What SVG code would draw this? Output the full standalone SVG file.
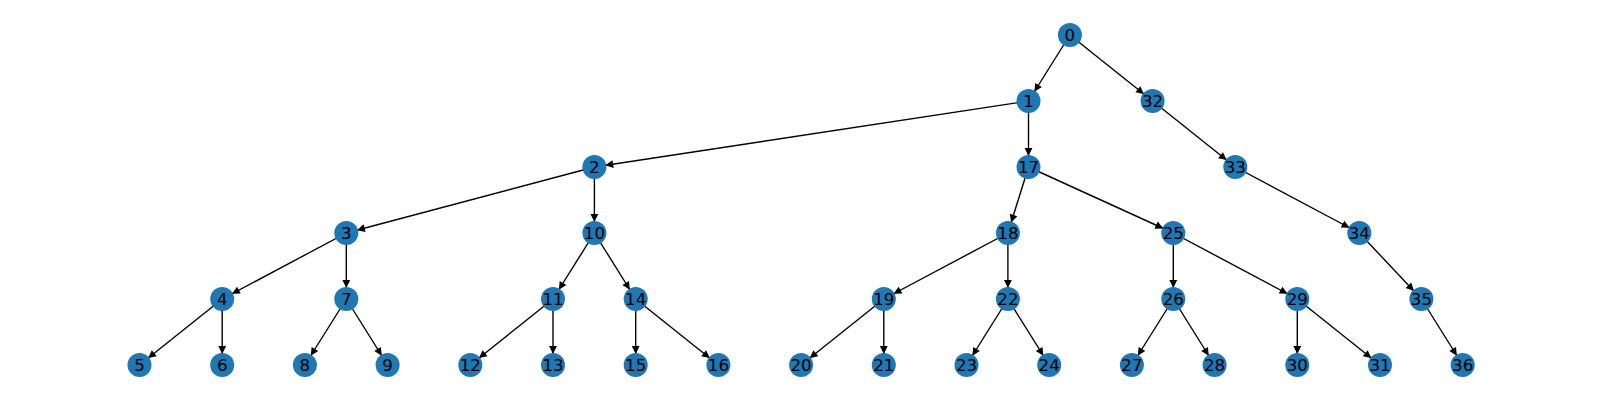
<svg xmlns="http://www.w3.org/2000/svg" width="1600" height="400" viewBox="0 0 1600 400">
<style>
.n circle{fill:#1f77b4}
.n text{font-family:"DejaVu Sans",sans-serif;font-size:16.67px;fill:#000;text-anchor:middle}
#edges line{stroke:#000;stroke-width:1.39;marker-end:url(#ah)}
</style>
<defs>
<marker id="ah" markerUnits="userSpaceOnUse" orient="auto" refX="0" refY="0" markerWidth="40" markerHeight="20" overflow="visible">
<path d="M-12.6,0 L-18.2,-2.8 L-18.2,2.8 Z" fill="#000" stroke="#000" stroke-width="1.39" stroke-linejoin="miter"/>
</marker>
</defs>
<rect width="1600" height="400" fill="#fff"/>
<g id="edges">
<line x1="1069.9" y1="35" x2="1028.5" y2="101"/>
<line x1="1069.9" y1="35" x2="1152.6" y2="101"/>
<line x1="1028.5" y1="101" x2="594.4" y2="167"/>
<line x1="1028.5" y1="101" x2="1028.5" y2="167"/>
<line x1="1152.6" y1="101" x2="1235.3" y2="167"/>
<line x1="594.4" y1="167" x2="346.3" y2="233"/>
<line x1="594.4" y1="167" x2="594.4" y2="233"/>
<line x1="1028.5" y1="167" x2="1007.9" y2="233"/>
<line x1="1028.5" y1="167" x2="1173.3" y2="233"/>
<line x1="1235.3" y1="167" x2="1359.3" y2="233"/>
<line x1="346.3" y1="233" x2="222.2" y2="299"/>
<line x1="346.3" y1="233" x2="346.3" y2="299"/>
<line x1="594.4" y1="233" x2="553.0" y2="299"/>
<line x1="594.4" y1="233" x2="635.7" y2="299"/>
<line x1="1007.9" y1="233" x2="883.8" y2="299"/>
<line x1="1007.9" y1="233" x2="1007.9" y2="299"/>
<line x1="1173.3" y1="233" x2="1173.3" y2="299"/>
<line x1="1173.3" y1="233" x2="1297.3" y2="299"/>
<line x1="1359.3" y1="233" x2="1421.4" y2="299"/>
<line x1="222.2" y1="299" x2="139.5" y2="365"/>
<line x1="222.2" y1="299" x2="222.2" y2="365"/>
<line x1="346.3" y1="299" x2="304.9" y2="365"/>
<line x1="346.3" y1="299" x2="387.6" y2="365"/>
<line x1="553.0" y1="299" x2="470.3" y2="365"/>
<line x1="553.0" y1="299" x2="553.0" y2="365"/>
<line x1="635.7" y1="299" x2="635.7" y2="365"/>
<line x1="635.7" y1="299" x2="718.4" y2="365"/>
<line x1="883.8" y1="299" x2="801.1" y2="365"/>
<line x1="883.8" y1="299" x2="883.8" y2="365"/>
<line x1="1007.9" y1="299" x2="966.5" y2="365"/>
<line x1="1007.9" y1="299" x2="1049.2" y2="365"/>
<line x1="1173.3" y1="299" x2="1131.9" y2="365"/>
<line x1="1173.3" y1="299" x2="1214.6" y2="365"/>
<line x1="1297.3" y1="299" x2="1297.3" y2="365"/>
<line x1="1297.3" y1="299" x2="1380.0" y2="365"/>
<line x1="1421.4" y1="299" x2="1462.7" y2="365"/>
</g>
<g id="node0" class="n"><circle cx="1069.9" cy="35" r="12"/><text x="1069.9" y="41">0</text></g>
<g id="node1" class="n"><circle cx="1028.5" cy="101" r="12"/><text x="1028.5" y="107">1</text></g>
<g id="node32" class="n"><circle cx="1152.6" cy="101" r="12"/><text x="1152.6" y="107">32</text></g>
<g id="node2" class="n"><circle cx="594.4" cy="167" r="12"/><text x="594.4" y="173">2</text></g>
<g id="node17" class="n"><circle cx="1028.5" cy="167" r="12"/><text x="1028.5" y="173">17</text></g>
<g id="node33" class="n"><circle cx="1235.3" cy="167" r="12"/><text x="1235.3" y="173">33</text></g>
<g id="node3" class="n"><circle cx="346.3" cy="233" r="12"/><text x="346.3" y="239">3</text></g>
<g id="node10" class="n"><circle cx="594.4" cy="233" r="12"/><text x="594.4" y="239">10</text></g>
<g id="node18" class="n"><circle cx="1007.9" cy="233" r="12"/><text x="1007.9" y="239">18</text></g>
<g id="node25" class="n"><circle cx="1173.3" cy="233" r="12"/><text x="1173.3" y="239">25</text></g>
<g id="node34" class="n"><circle cx="1359.3" cy="233" r="12"/><text x="1359.3" y="239">34</text></g>
<g id="node4" class="n"><circle cx="222.2" cy="299" r="12"/><text x="222.2" y="305">4</text></g>
<g id="node7" class="n"><circle cx="346.3" cy="299" r="12"/><text x="346.3" y="305">7</text></g>
<g id="node11" class="n"><circle cx="553.0" cy="299" r="12"/><text x="553.0" y="305">11</text></g>
<g id="node14" class="n"><circle cx="635.7" cy="299" r="12"/><text x="635.7" y="305">14</text></g>
<g id="node19" class="n"><circle cx="883.8" cy="299" r="12"/><text x="883.8" y="305">19</text></g>
<g id="node22" class="n"><circle cx="1007.9" cy="299" r="12"/><text x="1007.9" y="305">22</text></g>
<g id="node26" class="n"><circle cx="1173.3" cy="299" r="12"/><text x="1173.3" y="305">26</text></g>
<g id="node29" class="n"><circle cx="1297.3" cy="299" r="12"/><text x="1297.3" y="305">29</text></g>
<g id="node35" class="n"><circle cx="1421.4" cy="299" r="12"/><text x="1421.4" y="305">35</text></g>
<g id="node5" class="n"><circle cx="139.5" cy="365" r="12"/><text x="139.5" y="371">5</text></g>
<g id="node6" class="n"><circle cx="222.2" cy="365" r="12"/><text x="222.2" y="371">6</text></g>
<g id="node8" class="n"><circle cx="304.9" cy="365" r="12"/><text x="304.9" y="371">8</text></g>
<g id="node9" class="n"><circle cx="387.6" cy="365" r="12"/><text x="387.6" y="371">9</text></g>
<g id="node12" class="n"><circle cx="470.3" cy="365" r="12"/><text x="470.3" y="371">12</text></g>
<g id="node13" class="n"><circle cx="553.0" cy="365" r="12"/><text x="553.0" y="371">13</text></g>
<g id="node15" class="n"><circle cx="635.7" cy="365" r="12"/><text x="635.7" y="371">15</text></g>
<g id="node16" class="n"><circle cx="718.4" cy="365" r="12"/><text x="718.4" y="371">16</text></g>
<g id="node20" class="n"><circle cx="801.1" cy="365" r="12"/><text x="801.1" y="371">20</text></g>
<g id="node21" class="n"><circle cx="883.8" cy="365" r="12"/><text x="883.8" y="371">21</text></g>
<g id="node23" class="n"><circle cx="966.5" cy="365" r="12"/><text x="966.5" y="371">23</text></g>
<g id="node24" class="n"><circle cx="1049.2" cy="365" r="12"/><text x="1049.2" y="371">24</text></g>
<g id="node27" class="n"><circle cx="1131.9" cy="365" r="12"/><text x="1131.9" y="371">27</text></g>
<g id="node28" class="n"><circle cx="1214.6" cy="365" r="12"/><text x="1214.6" y="371">28</text></g>
<g id="node30" class="n"><circle cx="1297.3" cy="365" r="12"/><text x="1297.3" y="371">30</text></g>
<g id="node31" class="n"><circle cx="1380.0" cy="365" r="12"/><text x="1380.0" y="371">31</text></g>
<g id="node36" class="n"><circle cx="1462.7" cy="365" r="12"/><text x="1462.7" y="371">36</text></g>
</svg>
